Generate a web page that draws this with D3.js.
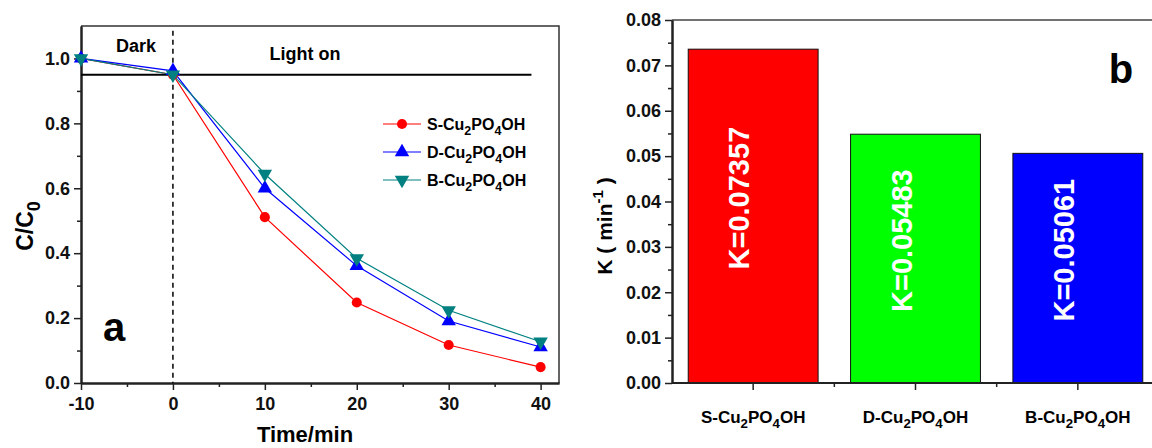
<!DOCTYPE html>
<html>
<head>
<meta charset="utf-8">
<script src="https://cdn.jsdelivr.net/npm/d3@7"></script>
<style>
  body { margin: 0; background: #fff; }
  svg { display: block; font-family: "Liberation Sans", Arial, sans-serif; font-weight: bold; }
</style>
</head>
<body>
<div id="chart"></div>
<script>
// données
const times = [-10, 0, 10, 20, 30, 40];
const sSeries = [1.0, 0.95, 0.511, 0.248, 0.117, 0.049];
const dSeries = [1.0, 0.962, 0.600, 0.361, 0.191, 0.111];
const bSeries = [1.0, 0.95, 0.644, 0.384, 0.224, 0.127];
const seriesNames = ['S-Cu_2PO_4OH', 'D-Cu_2PO_4OH', 'B-Cu_2PO_4OH'];
const xTicks = [-10, 0, 10, 20, 30, 40];
const yTicksA = [0, 0.2, 0.4, 0.6, 0.8, 1.0];

const catalysts = ['S-Cu_2PO_4OH', 'D-Cu_2PO_4OH', 'B-Cu_2PO_4OH'];
const kValues = [0.07357, 0.05483, 0.05061];
const kLabels = ['K=0.07357', 'K=0.05483', 'K=0.05061'];
const yTicksB = [0, 0.01, 0.02, 0.03, 0.04, 0.05, 0.06, 0.07, 0.08];

const svg = d3.select('#chart').append('svg')
    .attr('width', 1152)
    .attr('height', 448);

// écrit un texte avec indices (_2 -> indice)
function richText(sel, str, size) {
    const parts = str.split(/(_\d)/).filter(s => s.length);
    let down = false;
    parts.forEach(p => {
        if (p[0] === '_') {
            sel.append('tspan').text(p[1])
                .attr('font-size', size * 0.78)
                .attr('dy', down ? 0 : size * 0.3);
            down = true;
        } else {
            const t = sel.append('tspan').text(p).attr('font-size', size);
            if (down) t.attr('dy', -size * 0.3);
            down = false;
        }
    });
}

function styleAxis(g) {
    g.attr('font-family', null).attr('font-size', null);
    g.select('.domain').attr('stroke', '#222').attr('stroke-width', 2);
    g.selectAll('.tick line').attr('stroke', '#222').attr('stroke-width', 1.5);
    g.selectAll('.tick text').attr('fill', '#111').attr('font-size', 18);
}

// ---------- panneau a ----------
const xA = d3.scaleLinear().domain([-10, 42]).range([81, 559]);
const yA = d3.scaleLinear().domain([0, 1.1]).range([383, 26]);

const gA = svg.append('g');

// cadre haut / droite
gA.append('path')
    .attr('d', `M${xA(-10)},${yA(1.1)}H${xA(42)}V${yA(0)}`)
    .attr('fill', 'none').attr('stroke', '#333').attr('stroke-width', 1.5);

// graduations secondaires
gA.append('g').attr('transform', `translate(0,${yA(0)})`)
    .call(d3.axisBottom(xA).tickValues(d3.range(-5, 42, 10)).tickSize(4).tickFormat('').tickSizeOuter(0))
    .call(styleAxis);
gA.append('g').attr('transform', `translate(${xA(-10)},0)`)
    .call(d3.axisLeft(yA).tickValues(d3.range(0.1, 1.0, 0.2)).tickSize(4).tickFormat('').tickSizeOuter(0))
    .call(styleAxis);

// axes principaux
gA.append('g').attr('transform', `translate(0,${yA(0)})`)
    .call(d3.axisBottom(xA).tickValues(xTicks).tickFormat(d => String(d)).tickSize(7).tickPadding(7).tickSizeOuter(0))
    .call(styleAxis);
gA.append('g').attr('transform', `translate(${xA(-10)},0)`)
    .call(d3.axisLeft(yA).tickValues(yTicksA).tickFormat(d3.format('.1f')).tickSize(7).tickPadding(4).tickSizeOuter(0))
    .call(styleAxis);

// ligne horizontale et séparation sombre / lumière
gA.append('line')
    .attr('x1', xA(-10)).attr('x2', xA(39))
    .attr('y1', yA(0.95)).attr('y2', yA(0.95))
    .attr('stroke', '#000').attr('stroke-width', 2);
gA.append('line')
    .attr('x1', xA(0)).attr('x2', xA(0))
    .attr('y1', yA(1.085)).attr('y2', yA(0))
    .attr('stroke', '#000').attr('stroke-width', 1.5)
    .attr('stroke-dasharray', '5,4');

gA.append('text').text('Dark').attr('x', 136).attr('y', 52)
    .attr('text-anchor', 'middle').attr('font-size', 18);
gA.append('text').text('Light on').attr('x', 305).attr('y', 60)
    .attr('text-anchor', 'middle').attr('font-size', 18);
gA.append('text').text('a').attr('x', 114).attr('y', 341)
    .attr('text-anchor', 'middle').attr('font-size', 40);

// séries
const series = [
    { name: seriesNames[0], values: sSeries, color: '#ff0000', symbol: d3.symbolCircle, rot: 0 },
    { name: seriesNames[1], values: dSeries, color: '#0000ff', symbol: d3.symbolTriangle, rot: 0 },
    { name: seriesNames[2], values: bSeries, color: '#008080', symbol: d3.symbolTriangle, rot: 180 }
];

const line = d3.line()
    .x((d, i) => xA(times[i]))
    .y(d => yA(d));

series.forEach(s => {
    gA.append('path')
        .datum(s.values)
        .attr('d', line)
        .attr('fill', 'none')
        .attr('stroke', s.color)
        .attr('stroke-width', 1.2);
});
series.forEach(s => {
    gA.selectAll(null)
        .data(s.values)
        .enter()
        .append('path')
        .attr('d', d3.symbol().type(s.symbol).size(s.symbol === d3.symbolCircle ? 80 : 90))
        .attr('transform', (d, i) => `translate(${xA(times[i])},${yA(d)}) rotate(${s.rot})`)
        .attr('fill', s.color);
});

// légende
const legend = gA.append('g');
series.forEach((s, i) => {
    const y = 124 + i * 28;
    legend.append('line')
        .attr('x1', 383).attr('x2', 421).attr('y1', y).attr('y2', y)
        .attr('stroke', s.color).attr('stroke-width', 1.2);
    legend.append('path')
        .attr('d', d3.symbol().type(s.symbol).size(s.symbol === d3.symbolCircle ? 80 : 90))
        .attr('transform', `translate(402,${y}) rotate(${s.rot})`)
        .attr('fill', s.color);
    const t = legend.append('text').attr('x', 427).attr('y', y + 6);
    richText(t, s.name, 16);
});

// titres des axes
gA.append('text').text('Time/min')
    .attr('x', 305).attr('y', 442)
    .attr('text-anchor', 'middle').attr('font-size', 22);
const yTitleA = gA.append('text')
    .attr('transform', 'translate(33,226) rotate(-90)')
    .attr('text-anchor', 'middle');
richText(yTitleA, 'C/C_0', 23);

// ---------- panneau b ----------
const xB = d3.scaleBand().domain(catalysts).range([672, 1159])
    .paddingInner(0.2).paddingOuter(0.1);
const yB = d3.scaleLinear().domain([0, 0.08]).range([383, 20]);

const gB = svg.append('g');

gB.append('path')
    .attr('d', `M672,${yB(0.08)}H1159V${yB(0)}`)
    .attr('fill', 'none').attr('stroke', '#444').attr('stroke-width', 1.5);

// barres
gB.selectAll('.bar')
    .data(kValues)
    .enter()
    .append('rect')
    .attr('class', 'bar')
    .attr('x', (d, i) => xB(catalysts[i]))
    .attr('y', d => yB(d))
    .attr('width', xB.bandwidth())
    .attr('height', d => yB(0) - yB(d))
    .attr('fill', (d, i) => ['#ff0000', '#00ff00', '#0000ff'][i])
    .attr('stroke', '#111')
    .attr('stroke-width', 1);

// étiquettes dans les barres
gB.selectAll('.klabel')
    .data(kValues)
    .enter()
    .append('text')
    .attr('class', 'klabel')
    .attr('transform', (d, i) => {
        const cx = xB(catalysts[i]) + xB.bandwidth() / 2 - 4;
        const cy = yB(d / 2) - 18;
        return `translate(${cx},${cy}) rotate(-90)`;
    })
    .attr('text-anchor', 'middle')
    .attr('fill', '#fff')
    .attr('font-size', 29)
    .text((d, i) => kLabels[i]);

// axe x : graduations
const stepB = xB.step();
const centers = catalysts.map(c => xB(c) + xB.bandwidth() / 2);
const xAxisB = gB.append('g').attr('transform', `translate(0,${yB(0)})`);
xAxisB.append('line').attr('x1', 672).attr('x2', 1159)
    .attr('stroke', '#222').attr('stroke-width', 2);
xAxisB.selectAll('.maj').data(centers).enter().append('line')
    .attr('x1', d => d).attr('x2', d => d).attr('y1', 0).attr('y2', 7)
    .attr('stroke', '#222').attr('stroke-width', 1.5);
xAxisB.selectAll('.min').data(centers.slice(1)).enter().append('line')
    .attr('x1', d => d - stepB / 2).attr('x2', d => d - stepB / 2).attr('y1', 0).attr('y2', 4)
    .attr('stroke', '#222').attr('stroke-width', 1.5);
catalysts.forEach((c, i) => {
    const t = gB.append('text').attr('x', centers[i]).attr('y', 423)
        .attr('text-anchor', 'middle');
    richText(t, c, 17);
});

// axe y
gB.append('g').attr('transform', 'translate(672,0)')
    .call(d3.axisLeft(yB).tickValues(d3.range(0.005, 0.08, 0.01)).tickSize(4).tickFormat('').tickSizeOuter(0))
    .call(styleAxis);
gB.append('g').attr('transform', 'translate(672,0)')
    .call(d3.axisLeft(yB).tickValues(yTicksB).tickFormat(d3.format('.2f')).tickSize(7).tickPadding(4).tickSizeOuter(0))
    .call(styleAxis);

const yTitleB = gB.append('text')
    .attr('transform', 'translate(612,226) rotate(-90)')
    .attr('text-anchor', 'middle')
    .attr('font-size', 21);
yTitleB.append('tspan').text('K ( min');
yTitleB.append('tspan').text('-1').attr('font-size', 15).attr('dy', -9);
yTitleB.append('tspan').text(' )').attr('dy', 9);

gB.append('text').text('b').attr('x', 1121).attr('y', 83)
    .attr('text-anchor', 'middle').attr('font-size', 40);
</script>
</body>
</html>
